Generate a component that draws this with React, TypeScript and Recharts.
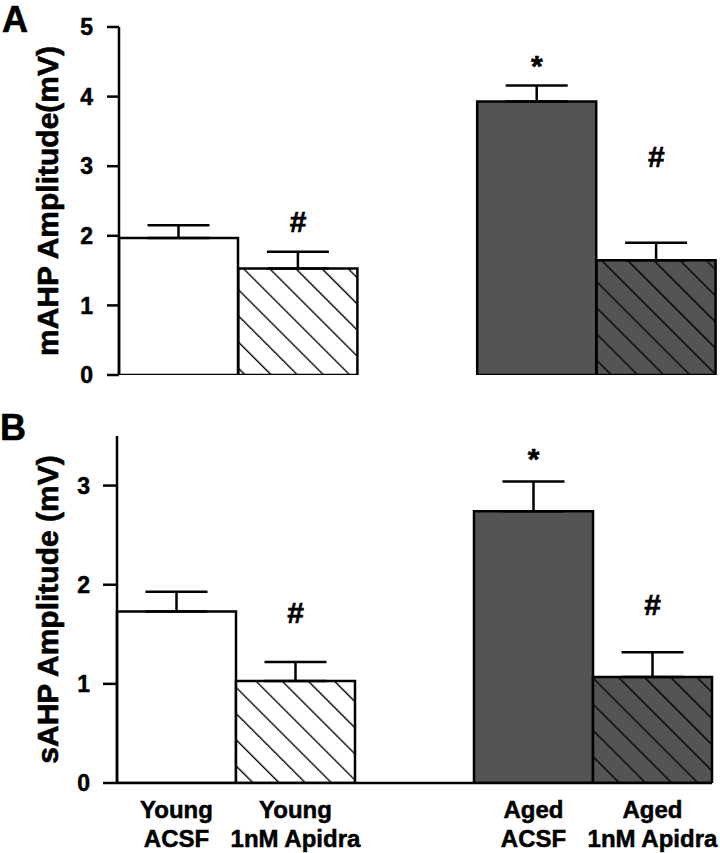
import { ComposedChart, Bar, Cell, ErrorBar, Scatter, XAxis, YAxis, Label } from 'recharts';

// groups (the empty one is the gap between young and aged)
const groups = ['youngAcsf', 'youngApidra', 'gap', 'agedAcsf', 'agedApidra'];
const labelTop = ['Young', 'Young', '', 'Aged', 'Aged'];
const labelBottom = ['ACSF', '1nM Apidra', '', 'ACSF', '1nM Apidra'];

// panel A: mAHP
const mahpMean = [1.97, 1.53, null, 3.93, 1.65];
const mahpSem = [0.18, 0.24, null, 0.23, 0.25];
const mahpMark = ['', '#', '', '*', '#'];
const mahpMarkY = [null, 2.06, null, 4.3, 2.99];
const mahpTicks = [0, 1, 2, 3, 4, 5];

// panel B: sAHP
const sahpMean = [1.73, 1.03, null, 2.74, 1.07];
const sahpSem = [0.2, 0.19, null, 0.3, 0.25];
const sahpMark = ['', '#', '', '*', '#'];
const sahpMarkY = [null, 1.61, null, 3.17, 1.69];
const sahpTicks = [0, 1, 2, 3];

const fills = ['#ffffff', 'url(#hatchWhite)', 'none', '#545457', 'url(#hatchDark)'];

const FONT = '"Liberation Sans", Arial, sans-serif';

function buildRows(mean: (number | null)[], sem: (number | null)[], mark: string[], markY: (number | null)[]) {
  return groups.map((g, i) => ({
    group: g,
    mean: mean[i],
    err: sem[i] == null ? null : [0, sem[i]],
    mark: mark[i],
    markY: markY[i],
  }));
}

const rowsA = buildRows(mahpMean, mahpSem, mahpMark, mahpMarkY);
const rowsB = buildRows(sahpMean, sahpSem, sahpMark, sahpMarkY);

const axisLine = { stroke: '#000', strokeWidth: 2.5 };
// reference text is heavy, so a thin outline thickens it a little
const tickStyle = { fontSize: 23, fontWeight: 700, fill: '#000', fontFamily: FONT, stroke: '#000', strokeWidth: 0.5 };

const MarkShape = (props: any) => {
  const { cx, cy, payload } = props;
  if (!payload || !payload.mark || cx == null || cy == null || isNaN(cy)) return <g />;
  return (
    <text x={cx} y={cy} textAnchor="middle" fontSize={30} fontWeight={700} fontFamily={FONT}
      fill="#000" stroke="#000" strokeWidth={0.6}>
      {payload.mark}
    </text>
  );
};

const GroupTick = (props: any) => {
  const { x, y, payload } = props;
  const i = groups.indexOf(payload.value);
  const st = { ...tickStyle, fontSize: 24 };
  return (
    <g>
      <text x={x} y={y + 35} textAnchor="middle" style={st}>{labelTop[i]}</text>
      <text x={x} y={y + 64} textAnchor="middle" style={st}>{labelBottom[i]}</text>
    </g>
  );
};

const yTitle = (title: string) => (props: any) => {
  const vb = props.viewBox || {};
  const cy = (vb.y ?? 0) + (vb.height ?? 0) / 2;
  return (
    <text x={58} y={cy} transform={`rotate(-90 58 ${cy})`} textAnchor="middle"
      fontSize={30} fontWeight={700} fontFamily={FONT} fill="#000" stroke="#000" strokeWidth={0.6}>
      {title}
    </text>
  );
};

function Panel({ rows, domain, ticks, title, showLabels, height, margin, yWidth, tickSize, tickMargin }: any) {
  return (
    <ComposedChart width={720} height={height} data={rows} margin={margin} barCategoryGap={0} barGap={0}>
      <XAxis dataKey="group" axisLine={axisLine} tickLine={false}
        tick={showLabels ? <GroupTick /> : false} height={showLabels ? 50 : 0} tickSize={0} tickMargin={0} interval={0} />
      <YAxis type="number" domain={domain} ticks={ticks} allowDataOverflow width={yWidth}
        axisLine={axisLine} tickLine={axisLine} tickSize={tickSize} tickMargin={tickMargin} tick={tickStyle}>
        <Label content={yTitle(title)} />
      </YAxis>
      <Bar dataKey="mean" stroke="#000" strokeWidth={2.5} isAnimationActive={false}>
        {rows.map((r: any, i: number) => (
          <Cell key={r.group} fill={fills[i]} stroke={r.mean == null ? 'none' : '#000'} />
        ))}
        <ErrorBar dataKey="err" width={31} stroke="#000" strokeWidth={2.5} direction="y" />
      </Bar>
      <Scatter dataKey="markY" shape={<MarkShape />} isAnimationActive={false} />
    </ComposedChart>
  );
}

export default function App() {
  return (
    <div style={{ position: 'absolute', left: 0, top: 0, width: 720, height: 853, background: '#fff', fontFamily: FONT }}>
      <svg width={0} height={0} style={{ position: 'absolute' }}>
        <defs>
          <pattern id="hatchWhite" patternUnits="userSpaceOnUse" width={18.5} height={18.5} patternTransform="rotate(-45)">
            <rect width={18.5} height={18.5} fill="#fff" />
            <line x1={0} y1={0} x2={0} y2={18.5} stroke="#000" strokeWidth={2.7} />
          </pattern>
          <pattern id="hatchDark" patternUnits="userSpaceOnUse" width={18.5} height={18.5} patternTransform="rotate(-45)">
            <rect width={18.5} height={18.5} fill="#545457" />
            <line x1={0} y1={0} x2={0} y2={18.5} stroke="#000" strokeWidth={2.7} />
          </pattern>
        </defs>
      </svg>

      <div style={{ position: 'absolute', left: 0, top: 0 }}>
        <Panel rows={rowsA} domain={[0, 5]} ticks={mahpTicks} title="mAHP Amplitude(mV)" showLabels={false}
          height={400} margin={{ top: 27, right: 4, bottom: 25, left: 0 }} yWidth={119} tickSize={12} tickMargin={14} />
      </div>
      <div style={{ position: 'absolute', left: 0, top: 400 }}>
        <Panel rows={rowsB} domain={[0, 3.5]} ticks={sahpTicks} title="sAHP Amplitude (mV)" showLabels={true}
          height={453} margin={{ top: 36, right: 8, bottom: 20, left: 0 }} yWidth={117} tickSize={14} tickMargin={13} />
      </div>

      <div style={{ position: 'absolute', left: 2, top: 0, fontSize: 36, fontWeight: 700, lineHeight: '40px', WebkitTextStroke: '0.6px #000' }}>A</div>
      <div style={{ position: 'absolute', left: 0, top: 408, fontSize: 36, fontWeight: 700, lineHeight: '40px', WebkitTextStroke: '0.6px #000' }}>B</div>
    </div>
  );
}
